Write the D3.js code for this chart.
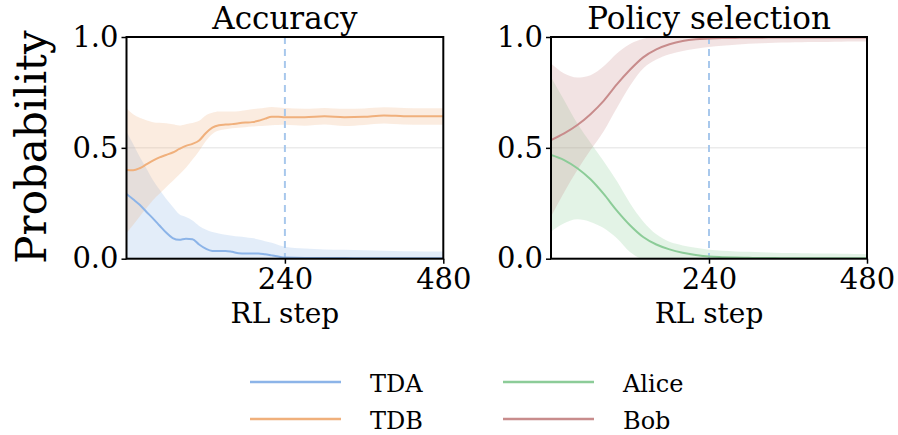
<!DOCTYPE html>
<html>
<script src='https://d3js.org/d3.v7.min.js'></script>
<body style="margin:0">
<svg id='chart' font-family="DejaVu Serif"></svg>
<script>
// ----- data -----
const stepsLeft = [0,10,20,30,40,50,60,70,80,90,100,110,120,130,140,150,160,170,180,190,200,210,220,230,240,270,300,330,360,390,420,450,480];
const tdaMean  = [.292,.268,.243,.212,.182,.150,.118,.093,.085,.090,.088,.064,.045,.035,.035,.035,.031,.025,.024,.024,.024,.020,.015,.010,.005,.003,.003,.003,.002,.002,.002,.002,.002];
const tdaUpper = [.574,.517,.460,.408,.355,.312,.270,.234,.200,.188,.172,.148,.132,.120,.114,.108,.104,.100,.097,.093,.087,.079,.072,.062,.054,.046,.042,.040,.038,.036,.034,.033,.032];
const tdaLower = [0,0,0,0,0,0,0,0,0,0,0,0,0,0,0,0,0,0,0,0,0,0,0,0,0,0,0,0,0,0,0,0,0];
const tdbMean  = [.400,.399,.408,.425,.442,.457,.468,.479,.495,.509,.518,.533,.566,.591,.602,.605,.607,.611,.614,.616,.622,.632,.640,.640,.638,.638,.642,.638,.640,.646,.643,.642,.642];
const tdbUpper = [.679,.652,.636,.625,.616,.613,.611,.606,.601,.607,.612,.622,.646,.658,.664,.664,.664,.665,.670,.674,.677,.681,.684,.682,.680,.676,.680,.676,.678,.683,.680,.679,.679];
const tdbLower = [.115,.152,.190,.227,.264,.293,.322,.350,.380,.410,.447,.486,.530,.563,.578,.584,.588,.591,.593,.596,.598,.600,.602,.603,.604,.600,.605,.598,.603,.610,.605,.604,.604];

const stepsRight = [0,20,40,60,80,100,120,140,160,180,200,220,240,260,280,300,320,340,360,380,400,420,440,460,480];
const aliceMean  = [.468,.445,.408,.358,.292,.217,.151,.098,.064,.042,.027,.017,.010,.007,.005,.004,.003,.003,.002,.002,.002,.002,.002,.002,.002];
const aliceUpper = [.820,.715,.610,.523,.440,.350,.250,.168,.110,.076,.060,.049,.040,.036,.033,.031,.029,.027,.026,.025,.024,.023,.022,.021,.020];
const aliceLower = [.123,.160,.178,.166,.138,.092,.030,0,0,0,0,0,0,0,0,0,0,0,0,0,0,0,0,0,0];
const bobMean    = [.535,.565,.603,.652,.712,.786,.852,.908,.944,.967,.982,.990,.993,.995,.996,.997,.997,.998,.998,.998,.998,.998,.998,.998,.998];
const bobUpper   = [.880,.835,.817,.828,.868,.926,.968,.992,1,1,1,1,1,1,1,1,1,1,1,1,1,1,1,1,1];
const bobLower   = [.190,.300,.400,.490,.575,.680,.780,.858,.898,.922,.937,.947,.955,.960,.965,.970,.972,.974,.975,.976,.977,.978,.979,.980,.980];

const xTicks = [240, 480];
const yTicks = [0, 0.5, 1];
const markerStep = 240;

const colors = {TDA: '#8cb4e8', TDB: '#f0b07c', Alice: '#8ccc98', Bob: '#c88c8c'};
const FONT = 'DejaVu Serif';

// ----- layout -----
const W = 898, H = 435;
const svg = d3.select('#chart').attr('width', W).attr('height', H);

const plotTop = 37, plotBottom = 258.7;
const panels = [
  {title: 'Accuracy', x0: 126.5, x1: 443.3, steps: stepsLeft,
   series: [
     {name: 'TDA', mean: tdaMean, lo: tdaLower, hi: tdaUpper},
     {name: 'TDB', mean: tdbMean, lo: tdbLower, hi: tdbUpper}]},
  {title: 'Policy selection', x0: 551, x1: 867, steps: stepsRight,
   series: [
     {name: 'Alice', mean: aliceMean, lo: aliceLower, hi: aliceUpper},
     {name: 'Bob', mean: bobMean, lo: bobLower, hi: bobUpper}]}
];

const y = d3.scaleLinear().domain([0, 1]).range([plotBottom, plotTop]);

panels.forEach(function(p, pi) {
  const x = d3.scaleLinear().domain([0, 480]).range([p.x0, p.x1]);
  const g = svg.append('g');

  g.append('clipPath').attr('id', 'clip' + pi)
    .append('rect').attr('x', p.x0).attr('y', plotTop).attr('width', p.x1 - p.x0).attr('height', plotBottom - plotTop);

  // horizontal grid
  g.selectAll('.grid').data(yTicks).enter().append('line')
    .attr('x1', p.x0).attr('x2', p.x1)
    .attr('y1', d => y(d)).attr('y2', d => y(d))
    .attr('stroke', '#ebebeb').attr('stroke-width', 1.5);

  const plot = g.append('g').attr('clip-path', 'url(#clip' + pi + ')');

  p.series.forEach(function(s) {
    const area = d3.area()
      .x((d, i) => x(p.steps[i]))
      .y0((d, i) => y(s.lo[i]))
      .y1((d, i) => y(s.hi[i]))
      .curve(d3.curveMonotoneX);
    plot.append('path').datum(s.mean).attr('d', area)
      .attr('fill', colors[s.name]).attr('fill-opacity', 0.24);
  });

  // dashed marker
  plot.append('line')
    .attr('x1', x(markerStep)).attr('x2', x(markerStep))
    .attr('y1', plotTop).attr('y2', plotBottom)
    .attr('stroke', '#a8c8ec').attr('stroke-width', 2)
    .attr('stroke-dasharray', '7,5');

  p.series.forEach(function(s) {
    const line = d3.line()
      .x((d, i) => x(p.steps[i]))
      .y(d => y(d))
      .curve(d3.curveMonotoneX);
    plot.append('path').datum(s.mean).attr('d', line)
      .attr('fill', 'none').attr('stroke', colors[s.name]).attr('stroke-width', 2);
  });

  // axes
  const ax = g.append('g').attr('transform', 'translate(0,' + plotBottom + ')')
    .call(d3.axisBottom(x).tickValues(xTicks).tickSize(5).tickPadding(5).tickFormat(d3.format('d')));
  const ay = g.append('g').attr('transform', 'translate(' + p.x0 + ',0)')
    .call(d3.axisLeft(y).tickValues(yTicks).tickSize(5).tickPadding(3).tickFormat(d3.format('.1f')));
  [ax, ay].forEach(function(a) {
    a.attr('font-family', FONT).attr('font-size', 29);
    a.select('.domain').remove();
    a.selectAll('.tick line').attr('stroke', '#000').attr('stroke-width', 1.5);
    a.selectAll('.tick text').attr('font-family', FONT).attr('fill', '#000');
  });

  // frame
  g.append('rect').attr('x', p.x0).attr('y', plotTop)
    .attr('width', p.x1 - p.x0).attr('height', plotBottom - plotTop)
    .attr('fill', 'none').attr('stroke', '#000').attr('stroke-width', 2);

  // title and x label
  g.append('text').attr('x', (p.x0 + p.x1) / 2).attr('y', 28.5)
    .attr('text-anchor', 'middle').attr('font-family', FONT).attr('font-size', 31).text(p.title);
  g.append('text').attr('x', x(240)).attr('y', 323)
    .attr('text-anchor', 'middle').attr('font-family', FONT).attr('font-size', 28).text('RL step');
});

svg.append('text')
  .attr('transform', 'translate(46,147) rotate(-90)')
  .attr('text-anchor', 'middle').attr('font-family', FONT).attr('font-size', 42).text('Probability');

// legend
const legendItems = [
  {name: 'TDA', col: 0, row: 0}, {name: 'TDB', col: 0, row: 1},
  {name: 'Alice', col: 1, row: 0}, {name: 'Bob', col: 1, row: 1}];
const legendX = [250, 503], legendY = [382, 419];
const leg = svg.append('g');
legendItems.forEach(function(d) {
  const lx = legendX[d.col], ly = legendY[d.row];
  leg.append('line').attr('x1', lx).attr('x2', lx + 91).attr('y1', ly).attr('y2', ly)
    .attr('stroke', colors[d.name]).attr('stroke-width', 2.5);
  leg.append('text').attr('x', lx + 120).attr('y', ly + 10)
    .attr('font-family', FONT).attr('font-size', 24).text(d.name);
});
</script>
</body>
</html>
